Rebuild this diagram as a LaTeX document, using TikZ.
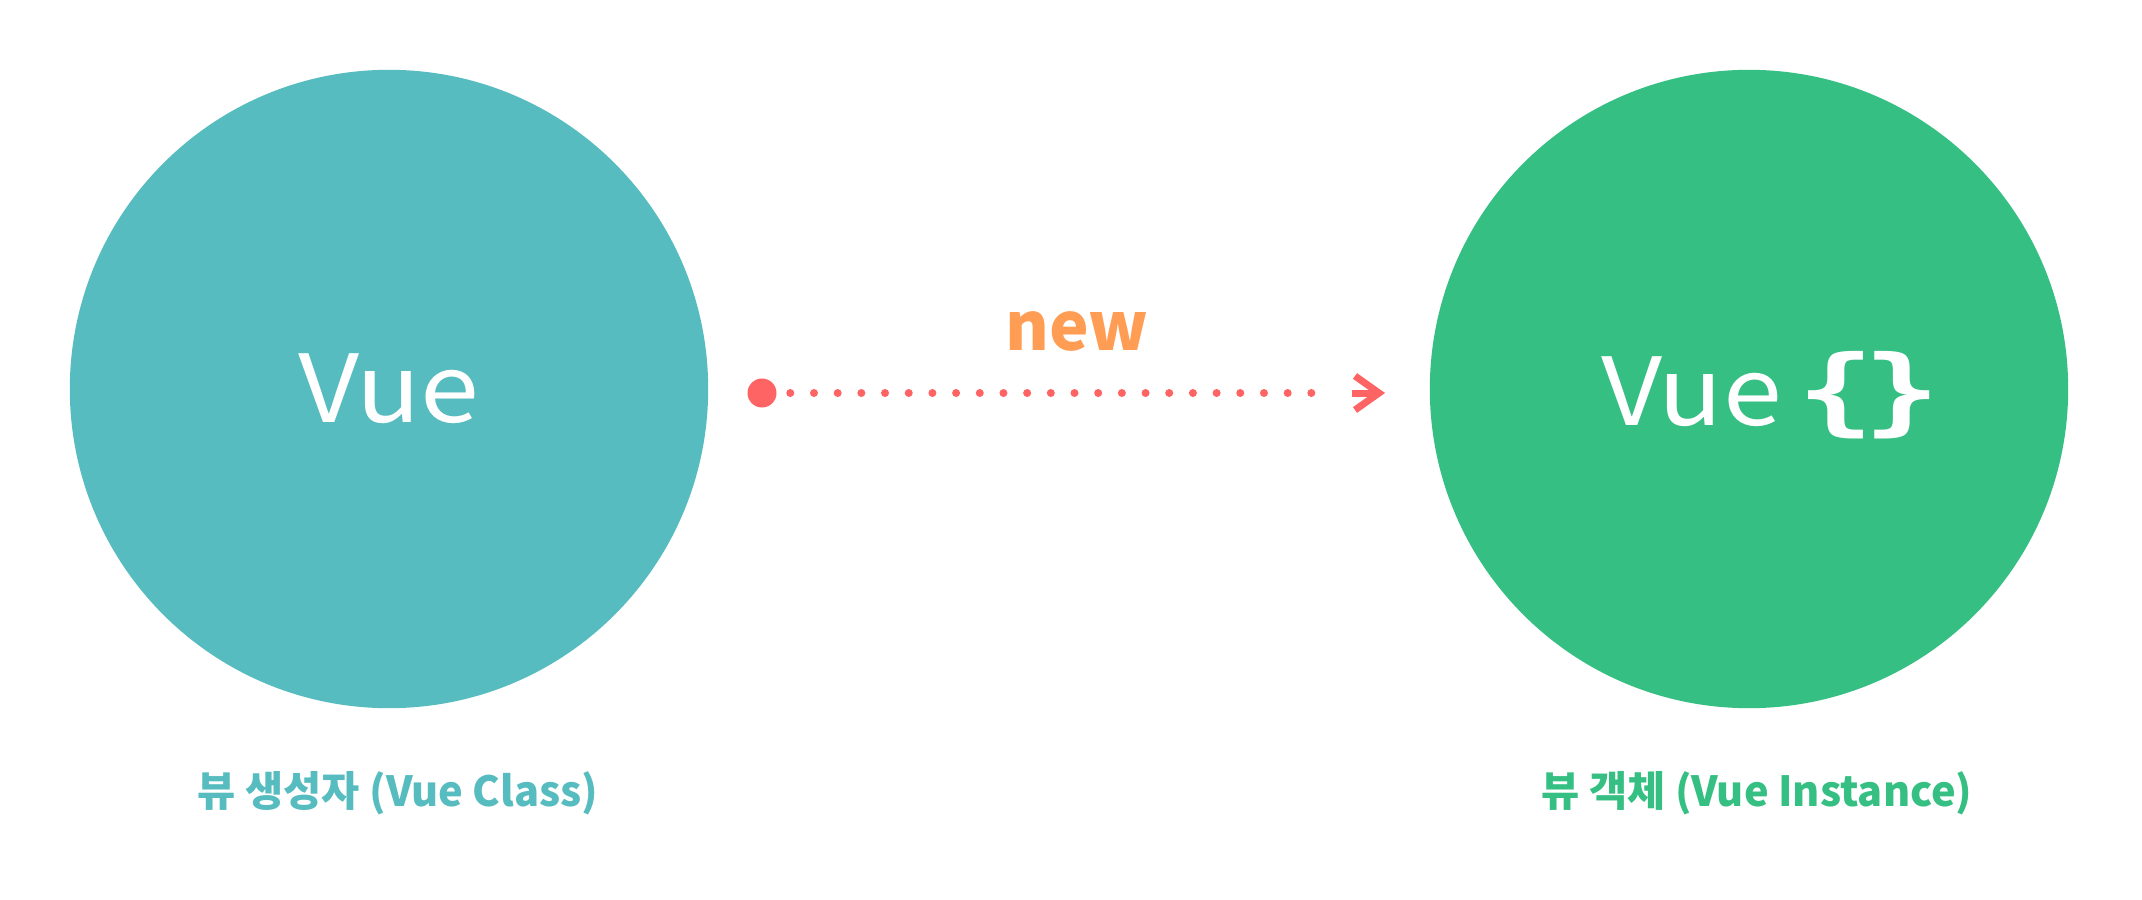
\documentclass[tikz,border=0pt]{standalone}
\usepackage{fontspec}
\setmainfont{Noto Sans CJK KR}
\newfontfamily\bracefont{DejaVu Sans Mono}
\definecolor{teal1}{HTML}{56BCBF}
\definecolor{green1}{HTML}{36BF83}
\definecolor{red1}{HTML}{FF6464}
\definecolor{orange1}{HTML}{FF9D55}
\tikzset{
  bigcircle/.style={circle, minimum size=6.38cm, inner sep=0pt, text=white, font=\fontsize{26.7pt}{30pt}\selectfont},
  caption/.style={font=\bfseries\fontsize{11.8pt}{14pt}\selectfont, inner sep=0pt},
  dotline/.style={draw=red1, line width=0.08cm, line cap=round, dash pattern=on 0pt off 0.2367cm},
  headline/.style={draw=red1, line width=0.07cm, line join=miter},
}
\begin{document}
\begin{tikzpicture}[x=0.01cm, y=-0.01cm]
\useasboundingbox[fill=white] (0,0) rectangle (2142,900);
\node[bigcircle, fill=teal1] (cls) at (389,389) {\scalebox{1.13}[1]{Vue}};
\fill[green1] (1749,389) circle[radius=3.19cm];
\node[text=white, font=\fontsize{26.7pt}{30pt}\selectfont, inner sep=0pt, anchor=base] (inst) at (1771,425) {\scalebox{1.13}[1]{Vue}\hspace{0.15cm}\raisebox{0.02cm}{\scalebox{1.35}[1]{\bracefont\bfseries\fontsize{27pt}{30pt}\selectfont\{\kern-0.08cm\}}}};
\node[caption, text=teal1] (clslabel) at (398,793) {뷰 생성자 (Vue Class)};
\node[caption, text=green1] (instlabel) at (1757,793) {뷰 객체 (Vue Instance)};
\node[circle, fill=red1, minimum size=0.29cm, inner sep=0pt] (src) at (762,393) {};
\coordinate (d0) at (790.3,393);
\coordinate (d1) at (1335,393);
\coordinate (tip) at (1379,393);
\coordinate (armt) at (1355,376);
\coordinate (armb) at (1355,410);
\coordinate (bar) at (1352,393);
\draw[dotline] (d0) -- (d1);
\draw[headline] (armt) -- (tip) -- (armb);
\draw[headline] (bar) -- (tip);
\node[text=orange1, font=\bfseries\fontsize{19pt}{22pt}\selectfont, inner sep=0pt] (newlabel) at (1077,331) {new};
\end{tikzpicture}
\end{document}
